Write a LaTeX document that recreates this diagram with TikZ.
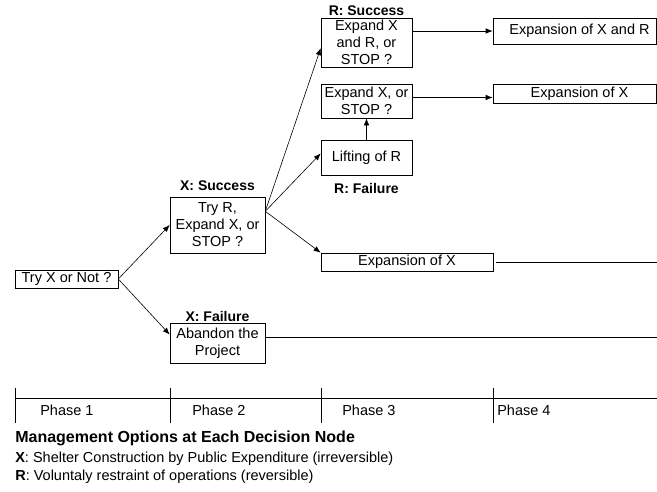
\documentclass[tikz,border=0pt]{standalone}
\usepackage{fontspec}
\setmainfont{Liberation Sans}
\usetikzlibrary{positioning,arrows.meta}

\newcommand{\boxfont}{\fontsize{14.5}{17}\selectfont}
\newcommand{\tagfont}{\fontsize{14}{16}\selectfont\bfseries}
\newcommand{\headfont}{\fontsize{16}{19}\selectfont\bfseries}

\begin{document}
\begin{tikzpicture}[x=1pt, y=-1pt, line width=0.6pt,
	>={Latex[length=7pt,width=5.5pt]},
	box/.style={draw, align=center, inner sep=0pt, font=\boxfont},
	tag/.style={inner sep=0pt, font=\tagfont},
	note/.style={anchor=west, inner sep=0pt, font=\boxfont}]

	\useasboundingbox (0,0) rectangle (657,491);
	\coordinate (rim) at (657,0);

	% decision nodes
	\node (tryx)[box, minimum width=103, minimum height=18] at (66.5,279) {Try X or Not ?};
	\node (tryr)[box, minimum width=95, minimum height=56] at (217.5,225) {Try R,\\Expand X, or\\STOP ?};
	\node (aband)[box, minimum width=95, minimum height=40] at (217.5,343) {Abandon the\\Project};
	\node (expxr)[box, minimum width=91, minimum height=49] at (366.5,42.5) {Expand X\\and R, or\\STOP ?};
	\node (expx)[box, minimum width=91, minimum height=34] at (366.5,101) {Expand X, or\\STOP ?};
	\node (lift)[box, minimum width=91, minimum height=35] at (366.5,157.5) {Lifting of R};

	% outcomes
	\node (exxr)[box, minimum width=163, minimum height=26] at (574.5,31) {\hspace{10pt}Expansion of X and R};
	\node (exx1)[box, minimum width=163, minimum height=19] at (574.5,93.5) {\hspace{10pt}Expansion of X};
	\node (exx2)[box, minimum width=172, minimum height=18] at (407,262) {Expansion of X};

	% results
	\node (xsucc)[tag, above=6pt of tryr] {X: Success};
	\node (xfail)[tag, above=1pt of aband] {X: Failure};
	\node (rsucc)[tag, above=2pt of expxr] {R: Success};
	\node (rfail)[tag, below=8pt of lift] {R: Failure};

	\draw [->](tryx.east)--(tryr.west);
	\draw [->](tryx.east)--(aband.170);
	\draw [->](tryr.16)--(expxr.187);
	\draw [->](tryr.16)--(lift.175);
	\draw [->](tryr.16)--(exx2.north west);
	\draw [->](lift)--(expx);
	\draw [->](exxr.west -| expxr.east)--(exxr.west);
	\draw [->]([yshift=-4pt]exx1.west -| expx.east)--([yshift=-4pt]exx1.west);
	\draw ([xshift=3pt]exx2.east)--(exx2.east -| rim);
	\draw (aband.7)--(aband.7 -| rim);

	% phases
	\draw (15,398)--(657,398);
	\foreach \x in {15,170,321,493}
		\draw (\x,388)--(\x,423);
	\foreach \x/\n in {40/1,192/2,342/3,497/4}
		\node (phase\n)[note] at (\x,410) {Phase \n};

	% legend
	\node (head)[note, font=\headfont] at (15,438) {Management Options at Each Decision Node};
	\node (legx)[note] at (15,459) {\textbf{X}: Shelter Construction by Public Expenditure (irreversible)};
	\node (legr)[note] at (15,477) {\textbf{R}: Voluntaly restraint of operations (reversible)};
\end{tikzpicture}
\end{document}
